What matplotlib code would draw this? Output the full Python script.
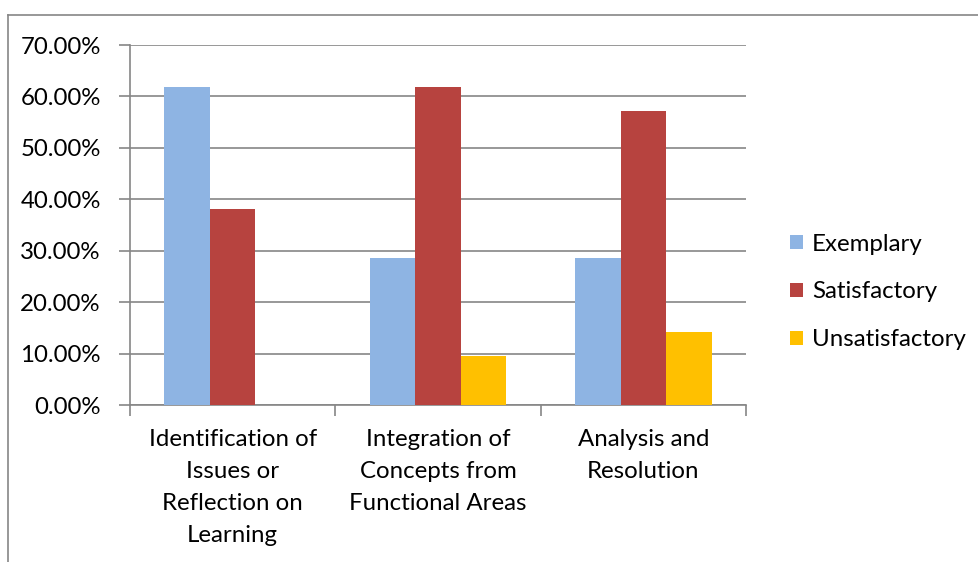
import matplotlib
matplotlib.use("Agg")
import matplotlib.pyplot as plt
from matplotlib.lines import Line2D
from matplotlib.ticker import FuncFormatter, MultipleLocator
import numpy as np

categories = [
    "Identification of\nIssues or\nReflection on\nLearning",
    "Integration of\nConcepts from\nFunctional Areas",
    "Analysis and\nResolution",
]
series_names = ["Exemplary", "Satisfactory", "Unsatisfactory"]
exemplary = [61.90, 28.57, 28.57]
satisfactory = [38.10, 61.90, 57.14]
unsatisfactory = [0.0, 9.52, 14.29]
colors = ["#8EB4E3", "#B7433F", "#FFC000"]

plt.rcParams["font.family"] = ["Lato", "DejaVu Sans"]
FS = 17.3

W, H = 979, 562
fig = plt.figure(figsize=(W / 100, H / 100), dpi=100)
fig.patch.set_facecolor("white")

# outer chart frame
gray = "#868686"
fig.add_artist(Line2D([8 / W, 1.0], [1 - 15 / H, 1 - 15 / H], color=gray, lw=1.2,
                      transform=fig.transFigure))
fig.add_artist(Line2D([8 / W, 8 / W], [0, 1 - 15 / H], color=gray, lw=1.2,
                      transform=fig.transFigure))

ax = fig.add_axes([130 / W, 157 / H, (746 - 130) / W, (405 - 45) / H])

n = len(categories)
x = np.arange(n)
bw = 1 / 4.5  # gap width 150% of a bar
data = [exemplary, satisfactory, unsatisfactory]
for i, (vals, name, c) in enumerate(zip(data, series_names, colors)):
    ax.bar(x + (i - 1) * bw, vals, width=bw, color=c, label=name, zorder=3)

ax.set_xlim(-0.5, n - 0.5)
ax.set_ylim(0, 70)
ax.yaxis.set_major_locator(MultipleLocator(10))
ax.yaxis.set_major_formatter(FuncFormatter(lambda v, p: f"{v:.2f}%"))
ax.grid(axis="y", color=gray, lw=1.2, zorder=0)

for s in ["top", "right"]:
    ax.spines[s].set_visible(False)
for s in ["left", "bottom"]:
    ax.spines[s].set_color(gray)
    ax.spines[s].set_linewidth(1.2)

ax.set_xticks(np.arange(n + 1) - 0.5)
ax.set_xticklabels([])
ax.set_xticks(x, minor=True)
ax.set_xticklabels(categories, minor=True, fontsize=FS, linespacing=1.66)
ax.tick_params(axis="x", which="major", length=8, color=gray, width=1.2)
ax.tick_params(axis="x", which="minor", length=0, pad=17)
ax.tick_params(axis="y", length=8, color=gray, width=1.2, labelsize=FS, pad=13)

leg = ax.legend(loc="center left", bbox_to_anchor=(1.071, 0.314), frameon=False,
                fontsize=FS, handlelength=0.55, handleheight=0.55, handletextpad=0.38,
                labelspacing=1.12, borderpad=0, borderaxespad=0)

fig.savefig("out.png", dpi=100, facecolor="white")
